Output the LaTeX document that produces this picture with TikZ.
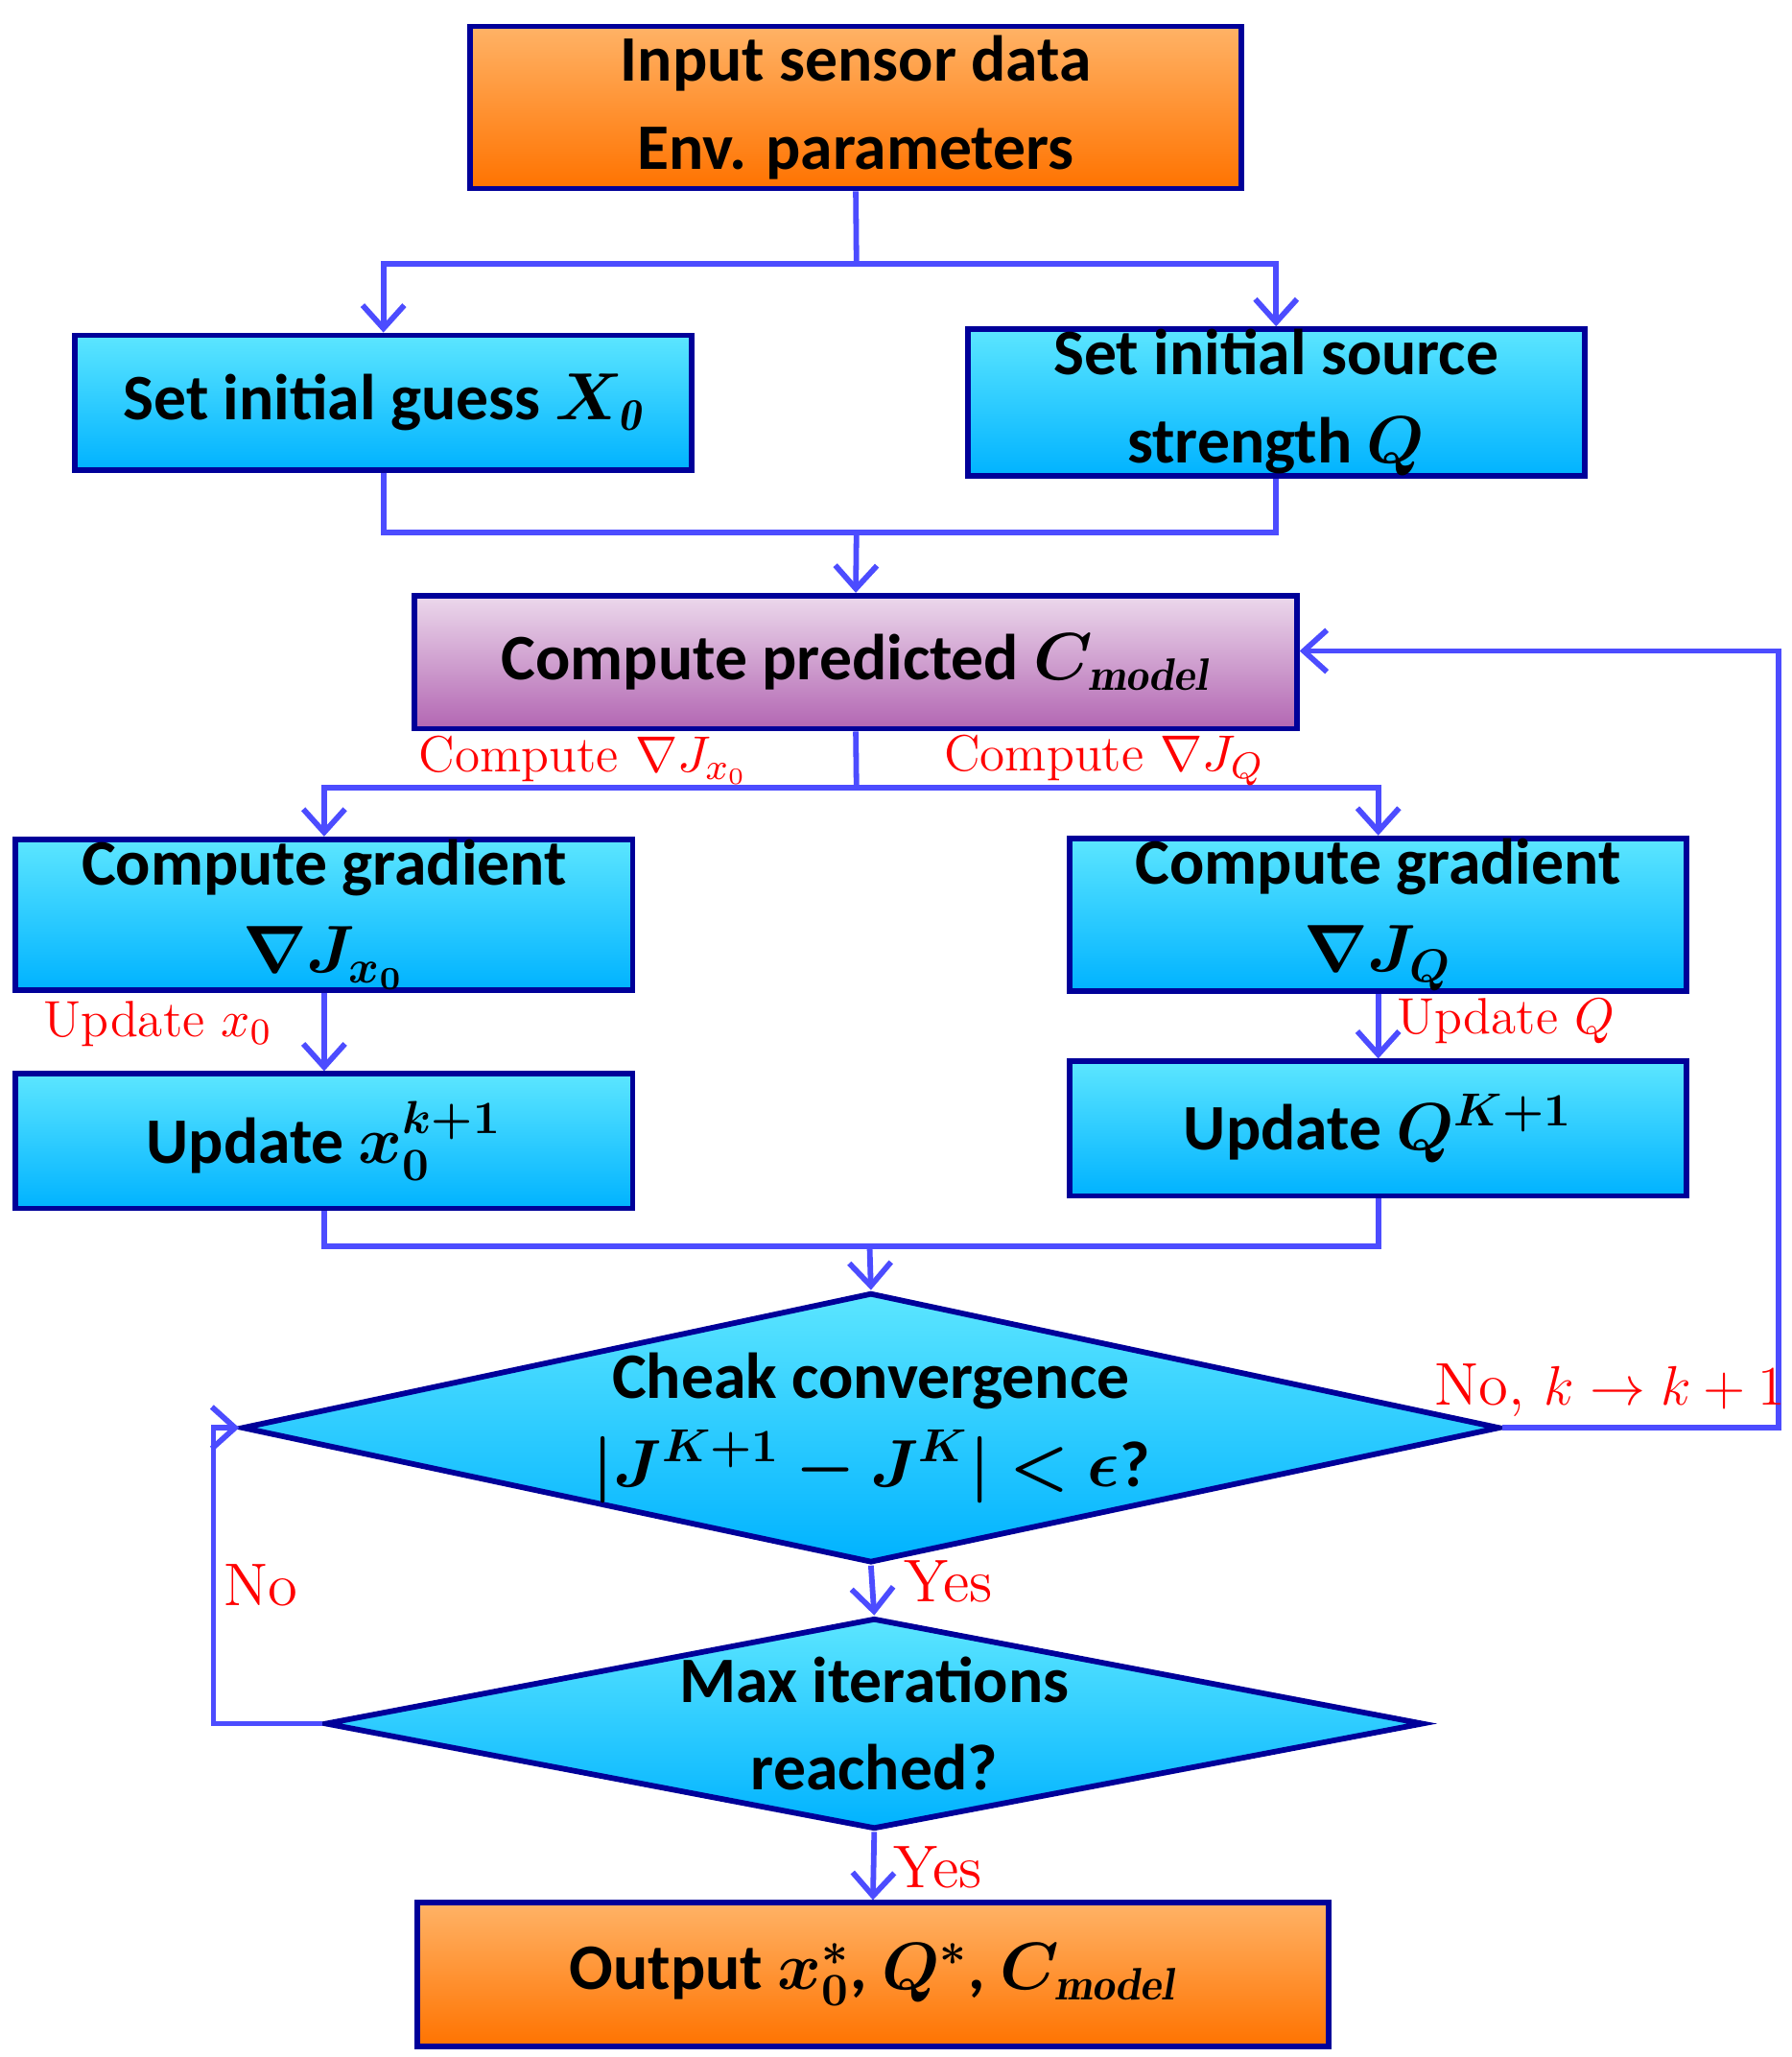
\documentclass[tikz,border=0pt]{standalone}
\usepackage{fontspec}
\usepackage{amsmath,bm}
\newfontfamily\carl{Carlito}
\usetikzlibrary{shapes.geometric,arrows.meta}
\begin{document}
\begin{tikzpicture}[x=0.01cm,y=-0.01cm,
  box/.style={draw=blue!60!black,line width=1.2pt,minimum width=4.68cm,minimum height=1.02cm,inner sep=0,
    top color=cyan!60!white!90!blue,bottom color=cyan!70!blue,font=\carl\bfseries\fontsize{14}{19}\selectfont,align=center},
  obox/.style={box,top color=orange!60!white,bottom color=orange!90!red},
  pbox/.style={box,top color=violet!15!white,bottom color=violet!60!white},
  dia/.style={diamond,draw=blue!60!black,line width=1.2pt,inner sep=0,top color=cyan!60!white!90!blue,bottom color=cyan!70!blue,font=\carl\bfseries\fontsize{14}{19}\selectfont,align=center},
  ln/.style={draw=blue!70!white,line width=1.2pt},
  ar/.style={ln,-{Straight Barb[length=5pt,width=9pt]}},
  lab/.style={text=red,font=\fontsize{11}{13}\selectfont}]
\useasboundingbox (0,0) rectangle (1360,1561);
\node[obox,minimum width=5.85cm,minimum height=1.23cm] (in) at (649.5,81.5) {Input sensor data\\Env. parameters};
\node[box] (g) at (291,305.5) {Set initial guess $\bm{X_{\mathit0}}$};
\node[box] (q) at (968.5,305.5) {Set initial source\\strength $\bm{Q}$};
\node[pbox,minimum width=6.69cm,minimum height=1.01cm] (c) at (649.5,502.5) {Compute predicted $\bm{C_{\mathit{model}}}$};
\node[box] (gl) at (246,694) {Compute gradient\\$\bm{\nabla J_{x_0}}$};
\node[box] (gr) at (1046,694) {Compute gradient\\$\bm{\nabla J_{Q}}$};
\node[box] (ul) at (246,866) {Update $\bm{x_0^{k+1}}$};
\node[box] (ur) at (1046,856.5) {Update $\bm{Q^{K+1}}$};
\node[dia,minimum width=8.72cm,minimum height=1.87cm,aspect=4.66] (d1) at (661,1083.5) {Cheak convergence\\$\bm{|J^{K+1}-J^{K}|<\epsilon}$?};
\node[dia,minimum width=8.33cm,minimum height=1.60cm,aspect=5.2] (d2) at (663.5,1308) {Max iterations\\reached?};
\node[obox,minimum width=6.91cm,minimum height=1.09cm] (o) at (662.5,1498.5) {Output $\bm{x_0^*}$, $\bm{Q^*}$, $\bm{C_{\mathit{model}}}$};
\coordinate (s1) at (650,200);
\draw[ln] (in.south) -- (s1);
\draw[ar] (s1) -| (g.north);
\draw[ar] (s1) -| (q.north);
\coordinate (m1) at (650,404);
\draw[ln] (g.south) |- (m1) -| (q.south);
\draw[ar] (m1) -- (c.north);
\coordinate (s2) at (650,598);
\draw[ln] (c.south) -- (s2);
\draw[ar] (s2) -| (gl.north);
\draw[ar] (s2) -| (gr.north);
\draw[ar] (gl.south) -- (ul.north);
\draw[ar] (gr.south) -- (ur.north);
\coordinate (m2) at (660,946);
\draw[ln] (ul.south) |- (m2) -| (ur.south);
\draw[ar] (m2) -- (d1.north);
\coordinate (r1) at (1350,1083.5);
\coordinate (r2) at (1350,494);
\draw[ar] (d1.east) -- (r1) -- (r2) -- (r2 -| c.east);
\draw[ar] (d1.south) -- (d2.north);
\coordinate (l1) at (162,1308);
\coordinate (l2) at (162,1083.5);
\draw[ar] (d2.west) -- (l1) -- (l2) -- (d1.west);
\draw[ar] (d2.south) -- (o.north);
\node[lab] (t1) at (443,577) {Compute $\nabla J_{x_0}$};
\node[lab] (t2) at (838,577) {Compute $\nabla J_{Q}$};
\node[lab] (t3) at (120,777) {Update $x_0$};
\node[lab] (t4) at (1143,775) {Update $Q$};
\node[lab,font=\fontsize{13}{15}\selectfont] (t5) at (1222,1055) {No, $k\to k+1$};
\node[lab,font=\fontsize{13}{15}\selectfont] (t6) at (720,1200) {Yes};
\node[lab,font=\fontsize{13}{15}\selectfont] (t7) at (198,1203) {No};
\node[lab,font=\fontsize{13}{15}\selectfont] (t8) at (712,1417) {Yes};
\end{tikzpicture}
\end{document}
